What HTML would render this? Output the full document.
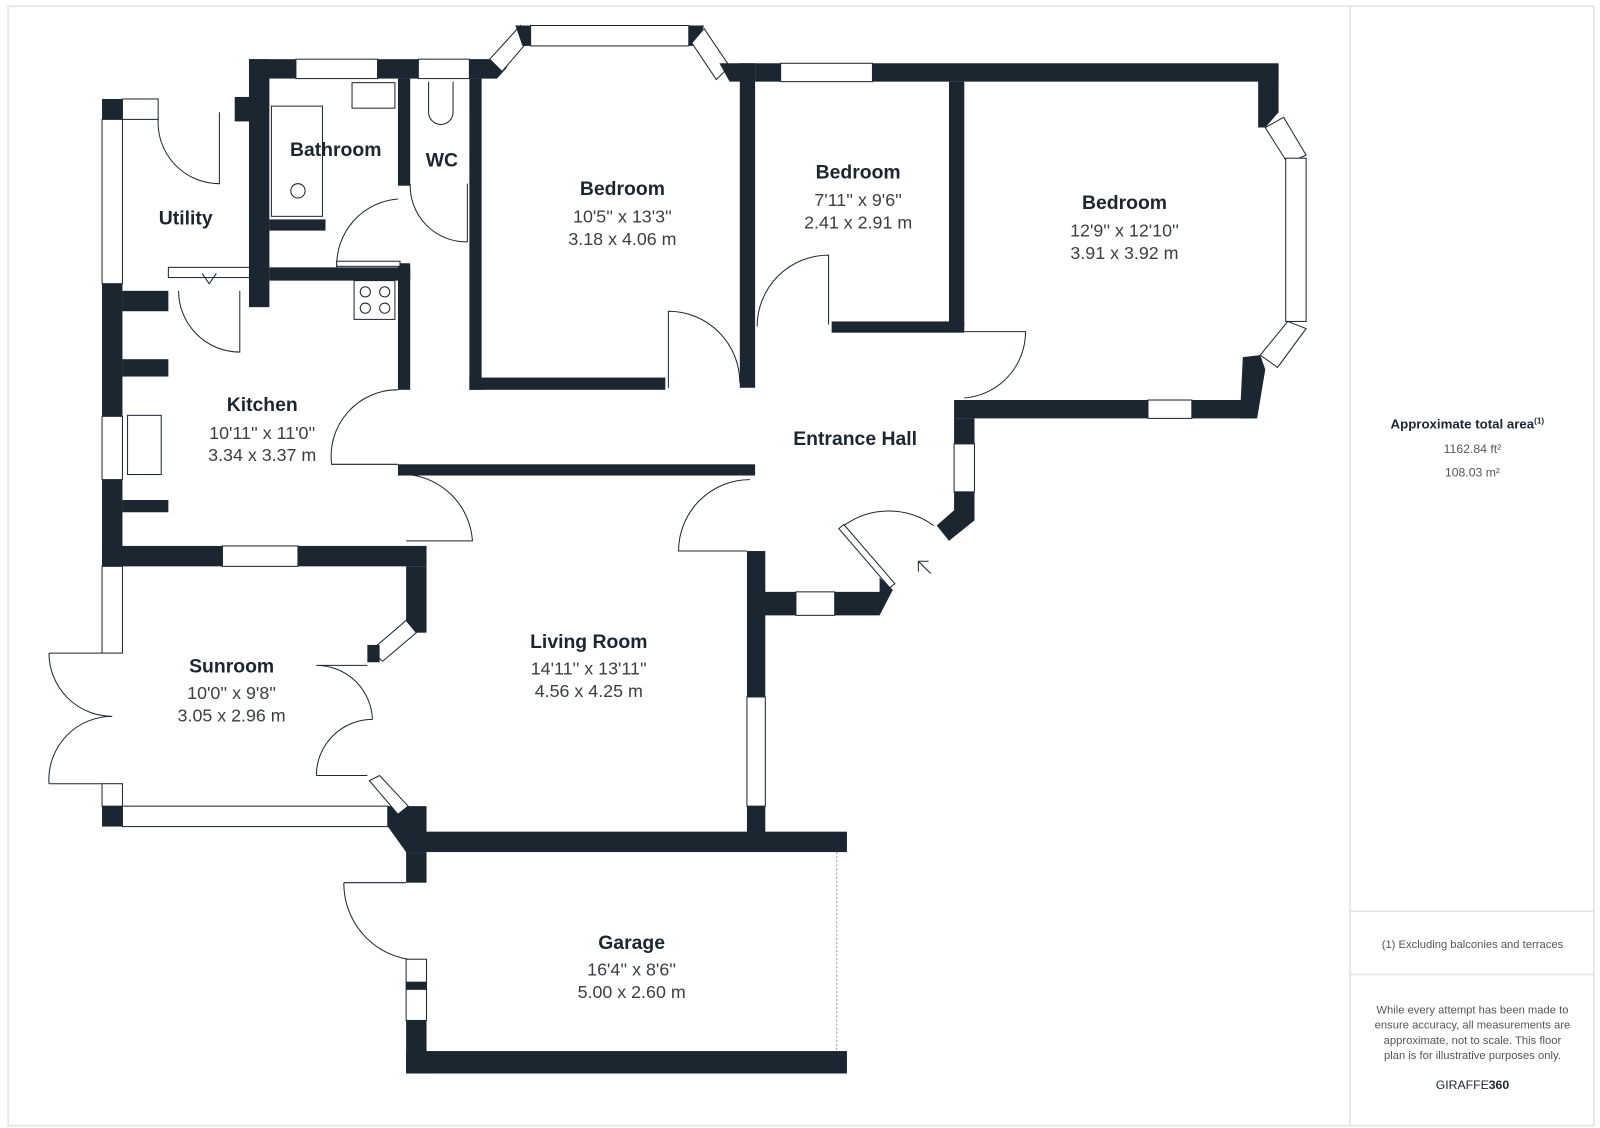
<!DOCTYPE html>
<html><head><meta charset="utf-8"><style>
html,body{margin:0;padding:0;background:#fff}
svg{display:block}
.w{fill:#1b2631}
.win{fill:#fff;stroke:#1b2631;stroke-width:1}
.ln{fill:none;stroke:#1b2631;stroke-width:1}
.t{font-family:"Liberation Sans",sans-serif;font-weight:bold;font-size:19px;fill:#1b2631;text-anchor:middle}
.d{font-family:"Liberation Sans",sans-serif;font-size:17.5px;fill:#3a3f44;text-anchor:middle}
.s{font-family:"Liberation Sans",sans-serif;font-size:11px;fill:#555;text-anchor:middle}
</style></head><body>
<svg width="1600" height="1128" viewBox="0 0 1568 1105.4" preserveAspectRatio="none">
<rect x="8" y="6" width="1554" height="1097" fill="none" stroke="#e2e2e2" stroke-width="1.5"/>
<line x1="1323" y1="6" x2="1323" y2="1103" stroke="#e2e2e2" stroke-width="1.5"/>
<line x1="1323" y1="893" x2="1562" y2="893" stroke="#e2e2e2" stroke-width="1.5"/>
<line x1="1323" y1="955" x2="1562" y2="955" stroke="#e2e2e2" stroke-width="1.5"/>

<!-- Utility -->
<rect class="w" x="100" y="97" width="20" height="20"/>
<rect class="win" x="120" y="97" width="35" height="20"/>
<rect class="win" x="100" y="117" width="20" height="161"/>
<rect class="w" x="230" y="95" width="20" height="24"/>
<path class="ln" d="M155 117 A60 60 0 0 0 215 180 L215 110"/>
<rect class="win" x="165" y="262" width="80" height="10"/>
<path class="ln" d="M198 268 L205 278 L212 268"/>
<!-- Bathroom/WC top -->
<rect class="w" x="244" y="58" width="46" height="19"/>
<rect class="win" x="290" y="58" width="80" height="19"/>
<rect class="w" x="370" y="58" width="40" height="19"/>
<rect class="win" x="410" y="58" width="50" height="19"/>
<polygon class="w" points="460,58 487,58 497,66 487,77 460,77"/>
<rect class="w" x="244" y="58" width="20" height="243"/>
<rect class="w" x="264" y="262" width="138" height="13"/>
<rect class="w" x="264" y="215" width="55" height="11"/>
<rect class="w" x="390" y="77" width="12" height="105"/>
<rect class="w" x="390" y="258" width="12" height="124"/>
<rect class="w" x="460" y="77" width="12" height="305"/>
<rect class="ln" x="266" y="104" width="50" height="108"/>
<circle class="ln" cx="292" cy="187" r="7"/>
<rect class="ln" x="345" y="81" width="42" height="25"/>
<path class="ln" d="M420 80 v30 a12 12 0 0 0 24 0 v-30"/>
<path class="ln" d="M330 262 A65 65 0 0 1 390 195"/>
<path class="ln" d="M402 180 A55 55 0 0 0 458 237 L458 180"/>
<rect class="win" x="330" y="256" width="62" height="5"/>
<text class="t" x="329" y="153">Bathroom</text>
<text class="t" x="433" y="163">WC</text>
<text class="t" x="182" y="220">Utility</text>
<!-- Bedroom1 bay -->
<polygon class="win" points="480,58 510,25 522,35 492,70"/>
<polygon class="w" points="505,25 520,25 520,45 512,45"/>
<rect class="win" x="520" y="25" width="155" height="20"/>
<polygon class="w" points="675,25 690,25 682,45 675,45"/>
<polygon class="win" points="690,28 715,65 702,78 678,42"/>
<polygon class="w" points="705,62 740,62 740,80 715,80"/>
<rect class="w" x="725" y="62" width="15" height="318"/>
<rect class="w" x="460" y="370" width="192" height="12"/>
<path class="ln" d="M655 380 V305 A70 70 0 0 1 725 375"/>
<text class="t" x="610" y="191">Bedroom</text>
<text class="d" x="610" y="218">10'5'' x 13'3''</text>
<text class="d" x="610" y="240">3.18 x 4.06 m</text>
<!-- top right -->
<rect class="w" x="740" y="62" width="25" height="18"/>
<rect class="win" x="765" y="62" width="90" height="18"/>
<rect class="w" x="855" y="62" width="398" height="18"/>
<rect class="w" x="930" y="80" width="15" height="240"/>
<rect class="w" x="815" y="315" width="130" height="11"/>
<path class="ln" d="M742 320 A70 70 0 0 1 812 250 V318"/>
<text class="t" x="841" y="175">Bedroom</text>
<text class="d" x="841" y="202">7'11'' x 9'6''</text>
<text class="d" x="841" y="224">2.41 x 2.91 m</text>
<!-- Bedroom 3 -->
<polygon class="w" points="1233,80 1253,62 1253,110 1240,125 1233,125"/>
<polygon class="win" points="1240,125 1258,115 1280,152 1262,160"/>
<rect class="win" x="1260" y="155" width="20" height="160"/>
<polygon class="win" points="1262,315 1280,322 1252,360 1235,348"/>
<polygon class="w" points="1218,350 1235,348 1240,362 1232,410 1215,410"/>
<rect class="w" x="935" y="392" width="190" height="18"/>
<rect class="win" x="1125" y="392" width="43" height="18"/>
<rect class="w" x="1168" y="392" width="62" height="18"/>
<path class="ln" d="M945 325 H1005 A65 65 0 0 1 945 390"/>
<text class="t" x="1102" y="205">Bedroom</text>
<text class="d" x="1102" y="232">12'9'' x 12'10''</text>
<text class="d" x="1102" y="254">3.91 x 3.92 m</text>
<!-- Entrance hall -->
<rect class="w" x="935" y="410" width="20" height="25"/>
<rect class="win" x="935" y="435" width="20" height="47"/>
<polygon class="w" points="935,482 955,482 955,510 930,530 918,515 935,500"/>
<polygon class="win" points="822,518 827,514 877,572 872,576"/>
<path class="ln" d="M827 515 A75 75 0 0 1 915 515"/>
<path class="ln" d="M912 562 L900 550 M900 550 L900 560 M900 550 L910 550"/>
<polygon class="w" points="862,566 875,578 862,603 735,603 735,580 862,580"/>
<rect class="win" x="780" y="580" width="38" height="23"/>
<rect class="w" x="732" y="540" width="18" height="143"/>
<rect class="win" x="732" y="683" width="18" height="107"/>
<rect class="w" x="732" y="790" width="18" height="30"/>
<rect class="w" x="390" y="455" width="350" height="11"/>
<path class="ln" d="M390 455 H325 A65 65 0 0 1 390 382"/>
<path class="ln" d="M735 470 A70 70 0 0 0 665 540 H732"/>
<text class="t" x="838" y="436">Entrance Hall</text>
<!-- Kitchen -->
<rect class="w" x="100" y="278" width="20" height="130"/>
<rect class="win" x="100" y="408" width="20" height="62"/>
<rect class="w" x="100" y="470" width="20" height="85"/>
<rect class="w" x="120" y="285" width="45" height="20"/>
<rect class="w" x="120" y="352" width="45" height="17"/>
<rect class="w" x="120" y="490" width="45" height="12"/>
<rect class="ln" x="125" y="407" width="33" height="58"/>
<rect class="ln" x="347" y="275" width="40" height="38"/>
<circle class="ln" cx="358" cy="286" r="5"/><circle class="ln" cx="377" cy="286" r="5"/>
<circle class="ln" cx="358" cy="302" r="5"/><circle class="ln" cx="377" cy="302" r="5"/>
<path class="ln" d="M175 285 A60 60 0 0 0 235 345 V285"/>
<path class="ln" d="M398 530 H463 A70 70 0 0 0 400 465"/>
<text class="t" x="257" y="403">Kitchen</text>
<text class="d" x="257" y="430">10'11'' x 11'0''</text>
<text class="d" x="257" y="452">3.34 x 3.37 m</text>
<!-- Sunroom -->
<rect class="w" x="100" y="535" width="118" height="20"/>
<rect class="win" x="218" y="535" width="74" height="20"/>
<rect class="w" x="292" y="535" width="126" height="20"/>
<rect class="w" x="398" y="555" width="20" height="65"/>
<polygon class="win" points="398,608 408,620 375,648 363,638"/>
<rect class="w" x="360" y="632" width="12" height="17"/>
<rect class="win" x="100" y="555" width="20" height="85"/>
<rect class="win" x="100" y="768" width="20" height="22"/>
<rect class="w" x="100" y="790" width="20" height="20"/>
<rect class="win" x="120" y="790" width="260" height="20"/>
<polygon class="w" points="380,790 398,790 418,790 418,835 398,835 380,810"/>
<polygon class="win" points="362,765 372,760 400,790 390,798"/>
<path class="ln" d="M48 640 H100 M48 640 A62 62 0 0 0 110 702 M48 768 A62 62 0 0 1 110 702 M48 768 H100"/>
<path class="ln" d="M310 652 H360 M310 652 A55 55 0 0 1 365 705 M310 760 A55 55 0 0 1 365 705 M310 760 H360"/>
<text class="t" x="227" y="659">Sunroom</text>
<text class="d" x="227" y="685">10'0'' x 9'8''</text>
<text class="d" x="227" y="707">3.05 x 2.96 m</text>
<text class="t" x="577" y="635">Living Room</text>
<text class="d" x="577" y="661">14'11'' x 13'11''</text>
<text class="d" x="577" y="683">4.56 x 4.25 m</text>
<!-- Garage -->
<rect class="w" x="398" y="815" width="432" height="20"/>
<rect class="w" x="398" y="835" width="20" height="30"/>
<rect class="win" x="398" y="940" width="20" height="60"/>
<rect class="w" x="398" y="962" width="20" height="8"/>
<rect class="w" x="398" y="1000" width="20" height="52"/>
<rect class="w" x="398" y="1030" width="432" height="22"/>
<line x1="820" y1="835" x2="820" y2="1030" stroke="#999" stroke-width="1" stroke-dasharray="2,2"/>
<path class="ln" d="M337 865 H398 M337 865 A75 75 0 0 0 400 940"/>
<text class="t" x="619" y="930">Garage</text>
<text class="d" x="619" y="956">16'4'' x 8'6''</text>
<text class="d" x="619" y="978">5.00 x 2.60 m</text>
<!-- Side panel -->
<text x="1438" y="420" style="font-family:'Liberation Sans',sans-serif;font-weight:bold;font-size:13px;fill:#1b2631;text-anchor:middle">Approximate total area<tspan font-size="8" dy="-5">(1)</tspan></text>
<text class="s" x="1443" y="444" style="font-size:12px">1162.84 ft²</text>
<text class="s" x="1443" y="467" style="font-size:12px">108.03 m²</text>
<text class="s" x="1443" y="929">(1) Excluding balconies and terraces</text>
<text class="s" x="1443" y="993">While every attempt has been made to</text>
<text class="s" x="1443" y="1008">ensure accuracy, all measurements are</text>
<text class="s" x="1443" y="1023">approximate, not to scale. This floor</text>
<text class="s" x="1443" y="1038">plan is for illustrative purposes only.</text>
<text x="1443" y="1067" style="font-family:'Liberation Sans',sans-serif;font-size:12px;fill:#1b2631;text-anchor:middle">GIRAFFE<tspan font-weight="bold">360</tspan></text>
</svg>
</body></html>
